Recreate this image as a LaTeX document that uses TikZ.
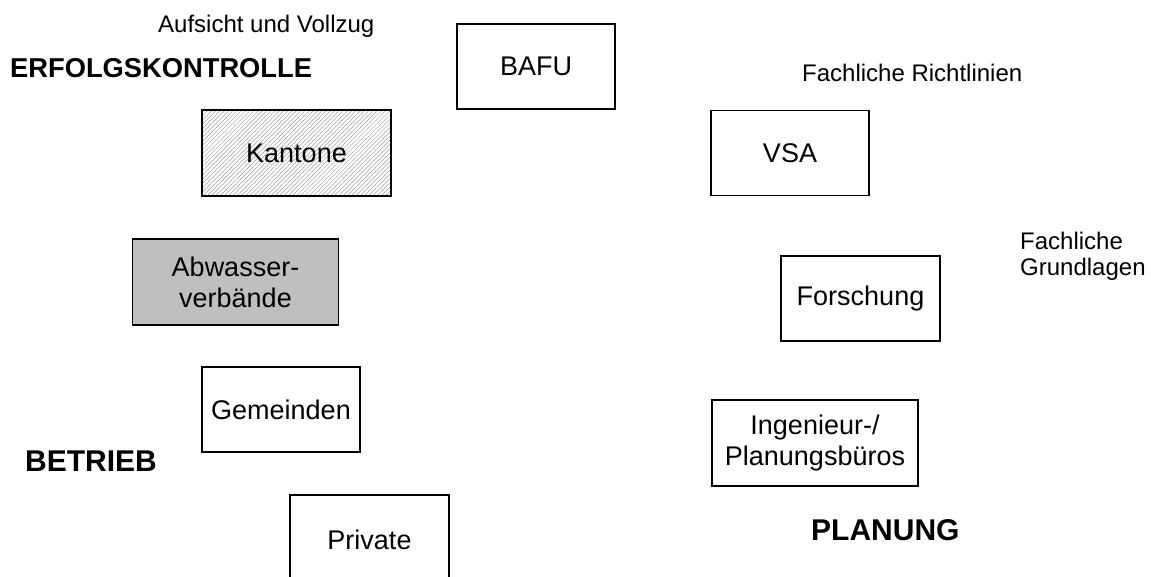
\documentclass[tikz,border=0pt]{standalone}
\usepackage{fontspec}
\setmainfont{Liberation Sans}
\usetikzlibrary{patterns.meta}
\begin{document}
\begin{tikzpicture}[x=1pt,y=-1pt,
  box/.style={draw=black,line width=1.3pt,rectangle,inner sep=0pt,align=center,
    minimum width=158pt,minimum height=85pt,font=\fontsize{27}{31}\selectfont},
  lbl/.style={inner sep=0pt,anchor=base west,font=\fontsize{24}{26}\selectfont},
  head/.style={inner sep=0pt,anchor=base west,font=\bfseries\fontsize{30}{33}\selectfont}]
\clip (0,0) rectangle (1151,577);
\fill[white] (0,0) rectangle (1151,577);
% boxes
\node[box] (bafu) at (536,66.5) {BAFU};
\node[box,minimum width=189pt,minimum height=86pt,
  pattern={Lines[angle=45,distance=3pt,line width=0.5pt]},pattern color=gray!75] (kant) at (296.5,153) {};
\node[font=\fontsize{27}{31}\selectfont] (kanttxt) at (kant.center) {Kantone};
\node[box] (vsa) at (790,153) {VSA};
\node[box,minimum width=206pt,minimum height=86pt,fill=black!25] (abw) at (235.5,282) {Abwasser-\\verbände};
\node[box,minimum width=159pt] (forsch) at (860.5,298.5) {Forschung};
\node[box] (gem) at (281,409.5) {Gemeinden};
\node[box,minimum width=206pt,minimum height=86pt] (ing) at (815,443) {Ingenieur-/\\Planungsbüros};
\node[box,minimum width=159pt,minimum height=90pt] (priv) at (369.5,540) {Private};
% labels
\node[lbl] (aufs) at (158,33) {Aufsicht und Vollzug};
\node[lbl] (richt) at (802,82) {Fachliche Richtlinien};
\node[lbl] (fach) at (1020,250) {Fachliche};
\node[lbl] (grund) at (1020,276) {Grundlagen};
\node[head,font=\bfseries\fontsize{27.3}{31}\selectfont] (erf) at (10,78) {ERFOLGSKONTROLLE};
\node[head] (betr) at (25,471) {BETRIEB};
\node[head] (plan) at (811,540) {PLANUNG};
\end{tikzpicture}
\end{document}
